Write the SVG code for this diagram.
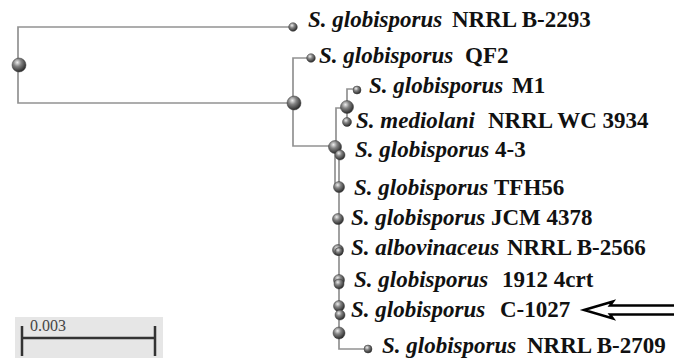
<svg xmlns="http://www.w3.org/2000/svg" width="674" height="358" viewBox="0 0 674 358">
  <defs>
    <radialGradient id="ball" cx="38%" cy="32%" r="70%">
      <stop offset="0" stop-color="#eeeeee"/>
      <stop offset="0.4" stop-color="#848484"/>
      <stop offset="1" stop-color="#262626"/>
    </radialGradient>
    <style>
      .br { fill: none; stroke: #929292; stroke-width: 1.7; }
      .nd { fill: url(#ball); stroke: #3a3a3a; stroke-width: 0.5; }
      .lb { font-family: "Liberation Serif", "Times New Roman", serif; font-size: 23px; font-weight: bold; fill: #111; }
      .sp { font-style: italic; }
      .sc { font-family: "Liberation Serif", "Times New Roman", serif; font-size: 16px; fill: #444; }
    </style>
  </defs>
  <rect width="674" height="358" fill="#ffffff"/>

  <!-- branches -->
  <g id="connectors">
    <path class="br" d="M290,27 H18 V103 H294"/>
    <path class="br" d="M308,58 H293 V146 H336"/>
    <path class="br" d="M336,147 V108 H347"/>
    <path class="br" d="M355,89 H347 V122"/>
    <path class="br" d="M335,147 V187"/>
    <path class="br" d="M339,152 V349 H366"/>
  </g>

  <!-- internal nodes and leaves -->
  <g id="root"><circle class="nd" cx="19" cy="65" r="7"/></g>
  <g id="n-B2293">
    <circle class="nd" cx="293" cy="27" r="4.3"/>
    <text class="lb" x="308" y="27"><tspan class="sp">S. globisporus</tspan><tspan x="452">NRRL B-2293</tspan></text>
  </g>
  <g id="n-inner1"><circle class="nd" cx="294" cy="103" r="7"/></g>
  <g id="n-QF2">
    <circle class="nd" cx="311" cy="58" r="4.3"/>
    <text class="lb" x="319" y="63"><tspan class="sp">S. globisporus</tspan><tspan x="465">QF2</tspan></text>
  </g>
  <g id="n-inner2"><circle class="nd" cx="335" cy="147" r="6.5"/></g>
  <g id="n-inner3"><circle class="nd" cx="347" cy="107" r="6.5"/></g>
  <g id="n-M1">
    <circle class="nd" cx="357" cy="90" r="4"/>
    <text class="lb" x="369" y="93"><tspan class="sp">S. globisporus</tspan><tspan x="512">M1</tspan></text>
  </g>
  <g id="n-WC3934">
    <circle class="nd" cx="347" cy="122" r="4.5"/>
    <text class="lb" x="356" y="128"><tspan class="sp">S. mediolani</tspan><tspan x="488">NRRL WC 3934</tspan></text>
  </g>
  <g id="n-4-3">
    <circle class="nd" cx="340" cy="155" r="5"/>
    <text class="lb" x="355" y="157"><tspan class="sp">S. globisporus</tspan><tspan x="495">4-3</tspan></text>
  </g>
  <g id="n-TFH56">
    <circle class="nd" cx="339" cy="187" r="5.5"/>
    <text class="lb" x="354" y="195"><tspan class="sp">S. globisporus</tspan><tspan x="494">TFH56</tspan></text>
  </g>
  <g id="n-JCM4378">
    <circle class="nd" cx="338" cy="219" r="5.5"/>
    <text class="lb" x="351" y="225"><tspan class="sp">S. globisporus</tspan><tspan x="491">JCM 4378</tspan></text>
  </g>
  <g id="n-B2566">
    <circle class="nd" cx="338" cy="250" r="5.5"/>
    <circle class="nd" cx="339" cy="251.5" r="4"/>
    <text class="lb" x="351" y="255"><tspan class="sp">S. albovinaceus</tspan><tspan x="507">NRRL B-2566</tspan></text>
  </g>
  <g id="n-1912">
    <circle class="nd" cx="339" cy="280" r="5.5"/>
    <circle class="nd" cx="339" cy="284" r="5"/>
    <text class="lb" x="354" y="287"><tspan class="sp">S. globisporus</tspan><tspan x="502">1912 4crt</tspan></text>
  </g>
  <g id="n-C1027">
    <circle class="nd" cx="339" cy="306" r="5.5"/>
    <circle class="nd" cx="340" cy="315" r="5"/>
    <text class="lb" x="351" y="317"><tspan class="sp">S. globisporus</tspan><tspan x="500">C-1027</tspan></text>
  </g>
  <g id="n-inner4"><circle class="nd" cx="339" cy="333" r="6"/></g>
  <g id="n-B2709">
    <circle class="nd" cx="368" cy="349" r="4"/>
    <text class="lb" x="382" y="353"><tspan class="sp">S. globisporus</tspan><tspan x="527">NRRL B-2709</tspan></text>
  </g>

  <!-- pointer to C-1027 -->
  <g id="pointer">
    <path d="M584,310 L613,301.5 L610,305.5 H676 V314.5 H610 L613,318.5 Z" fill="#ffffff" stroke="#000" stroke-width="2.4" stroke-linejoin="miter"/>
  </g>

  <!-- scale bar -->
  <g id="scale">
    <rect x="15" y="317" width="148" height="41" fill="#e6e6e6"/>
    <path d="M22,326 V356 M155,326 V356 M22,338 H155" fill="none" stroke="#333" stroke-width="2.5"/>
    <text class="sc" x="30" y="331">0.003</text>
  </g>
</svg>
